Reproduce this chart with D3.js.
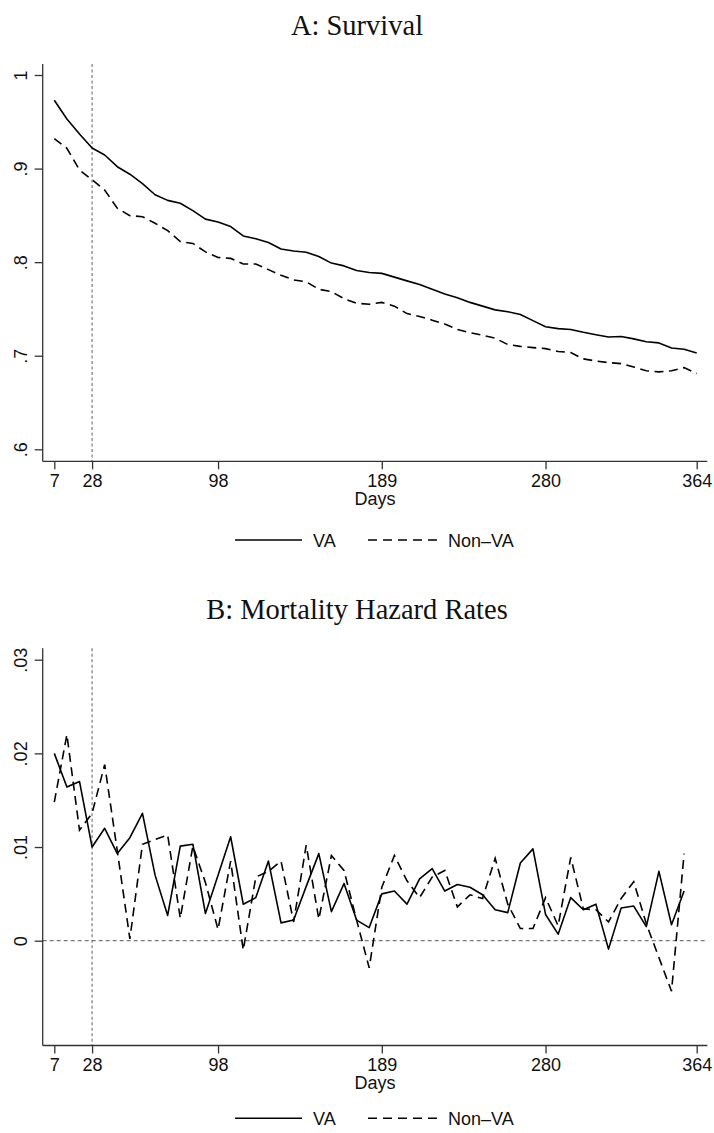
<!DOCTYPE html>
<html>
<head>
<meta charset="utf-8">
<script src="https://cdn.jsdelivr.net/npm/d3@7/dist/d3.min.js"></script>
<style>
  html, body { margin: 0; padding: 0; background: #fff; }
  svg { display: block; }
  text { font-family: "Liberation Sans", Arial, Helvetica, sans-serif; fill: #111; }
  .title { font-family: "Liberation Serif", "Times New Roman", serif; }
</style>
</head>
<body>
<svg id="chart" width="714" height="1133"></svg>
<script>
// ---------------- DATA ----------------
const survivalDays = [7,14,21,28,35,42,49,56,63,70,77,84,91,98,105,112,119,126,133,140,147,154,161,168,175,182,189,196,203,210,217,224,231,238,245,252,259,266,273,280,287,294,301,308,315,322,329,336,343,350,357,364];
const vaSurvival = [0.973,0.953,0.937,0.922,0.9145,0.902,0.894,0.884,0.872,0.866,0.863,0.855,0.846,0.843,0.838,0.828,0.825,0.821,0.814,0.812,0.8106,0.806,0.799,0.796,0.791,0.789,0.788,0.784,0.780,0.776,0.771,0.766,0.762,0.757,0.753,0.749,0.747,0.744,0.7375,0.731,0.729,0.728,0.725,0.7225,0.720,0.7205,0.718,0.715,0.7137,0.7083,0.707,0.703];
const nonVaSurvival = [0.932,0.9217,0.8985,0.888,0.877,0.8576,0.8497,0.8486,0.8415,0.8337,0.822,0.820,0.811,0.805,0.804,0.798,0.798,0.792,0.786,0.781,0.779,0.771,0.7685,0.761,0.756,0.755,0.757,0.753,0.745,0.742,0.738,0.734,0.728,0.7247,0.722,0.7187,0.712,0.710,0.7087,0.7076,0.7045,0.7034,0.6966,0.6944,0.6926,0.6916,0.688,0.684,0.6827,0.684,0.6873,0.681];

const hazardDays = [7,14,21,28,35,42,49,56,63,70,77,84,91,98,105,112,119,126,133,140,147,154,161,168,175,182,189,196,203,210,217,224,231,238,245,252,259,266,273,280,287,294,301,308,315,322,329,336,343,350,357];
const vaHazard = [0.0200,0.0164,0.0170,0.0100,0.0120,0.0093,0.0110,0.0136,0.0070,0.0027,0.0101,0.0103,0.0029,0.0070,0.0111,0.0039,0.0046,0.0085,0.0019,0.0022,0.0058,0.0093,0.0031,0.0061,0.0022,0.0014,0.0050,0.0053,0.0039,0.0066,0.0077,0.0053,0.0060,0.0057,0.0049,0.0033,0.0030,0.0083,0.0098,0.0028,0.0007,0.0046,0.0033,0.0039,-0.0009,0.0035,0.0037,0.0015,0.0074,0.0017,0.0053];
const nonVaHazard = [0.0148,0.0220,0.0118,0.0136,0.0188,0.0096,0.0002,0.0103,0.0108,0.0113,0.0024,0.0101,0.0062,0.0012,0.0085,-0.0010,0.0068,0.0074,0.0085,0.0020,0.0102,0.0023,0.0091,0.0075,0.0022,-0.0029,0.0057,0.0091,0.0064,0.0046,0.0068,0.0075,0.0036,0.0049,0.0045,0.0088,0.0039,0.0013,0.0013,0.0046,0.0016,0.0089,0.0034,0.0033,0.0020,0.0045,0.0063,0.0018,-0.0018,-0.0054,0.0093];

const xTicks = [7, 28, 98, 189, 280, 364];
const survivalTicks = [0.6, 0.7, 0.8, 0.9, 1];
const survivalTickLabels = [".6", ".7", ".8", ".9", "1"];
const hazardTicks = [0, 0.01, 0.02, 0.03];
const hazardTickLabels = ["0", ".01", ".02", ".03"];
const seriesNames = ["VA", "Non\u2013VA"];
const titles = ["A: Survival", "B: Mortality Hazard Rates"];
const xTitle = "Days";
const cutoffDay = 28;

// ---------------- LAYOUT ----------------
const svg = d3.select("#chart");
const W = 714;
const plotLeft = 42.7, plotRight = 707.3;
const x = d3.scaleLinear().domain([7, 364]).range([54.3, 696.7]);
const DASH = "9,5.5";

function panel(offY, cfg) {
  const g = svg.append("g").attr("transform", `translate(0,${offY})`);
  const top = 64, bottom = 461.3;
  const y = d3.scaleLinear().domain(cfg.yDomain).range(cfg.yRange);

  // title
  g.append("text").attr("class", "title")
    .attr("x", W / 2).attr("y", 34.5)
    .attr("text-anchor", "middle")
    .style("font-size", "28.5px")
    .text(cfg.title);

  // reference lines
  if (cfg.zeroLine) {
    g.append("line")
      .attr("x1", plotLeft).attr("x2", plotRight)
      .attr("y1", y(0)).attr("y2", y(0))
      .attr("stroke", "#7a7a7a").attr("stroke-width", 1.2)
      .attr("stroke-dasharray", "4,3");
  }
  g.append("line")
    .attr("x1", x(cutoffDay)).attr("x2", x(cutoffDay))
    .attr("y1", top).attr("y2", bottom)
    .attr("stroke", "#7a7a7a").attr("stroke-width", 1.2)
    .attr("stroke-dasharray", "3,2.5");

  // series
  const line = d3.line().x(d => x(d[0])).y(d => y(d[1]));
  g.append("path")
    .datum(cfg.days.map((d, i) => [d, cfg.a[i]]))
    .attr("d", line).attr("fill", "none")
    .attr("stroke", "#000").attr("stroke-width", 1.6)
    .attr("stroke-linejoin", "round");
  g.append("path")
    .datum(cfg.days.map((d, i) => [d, cfg.b[i]]))
    .attr("d", line).attr("fill", "none")
    .attr("stroke", "#000").attr("stroke-width", 1.6)
    .attr("stroke-dasharray", DASH);

  // axes frame lines
  g.append("line").attr("x1", plotLeft).attr("x2", plotLeft)
    .attr("y1", top).attr("y2", bottom)
    .attr("stroke", "#333").attr("stroke-width", 1.3);
  g.append("line").attr("x1", plotLeft).attr("x2", plotRight)
    .attr("y1", bottom).attr("y2", bottom)
    .attr("stroke", "#333").attr("stroke-width", 1.3);

  // x axis
  const xa = g.append("g").attr("transform", `translate(0,${bottom})`)
    .call(d3.axisBottom(x).tickValues(xTicks).tickSize(8).tickPadding(4.5).tickFormat(d3.format("d")));
  xa.select(".domain").remove();
  xa.selectAll(".tick line").attr("stroke", "#333").attr("stroke-width", 1.3);
  xa.selectAll(".tick text").style("font-size", "18px")
    .style("font-family", "Liberation Sans, Arial, sans-serif").attr("fill", "#111");

  // y axis
  const ya = g.append("g").attr("transform", `translate(${plotLeft},0)`)
    .call(d3.axisLeft(y).tickValues(cfg.yTicks).tickSize(8)
      .tickFormat((d, i) => cfg.yLabels[i]));
  ya.select(".domain").remove();
  ya.selectAll(".tick line").attr("stroke", "#333").attr("stroke-width", 1.3);
  ya.selectAll(".tick text")
    .attr("x", null).attr("dy", null)
    .attr("transform", "translate(-15.7,0) rotate(-90)")
    .attr("text-anchor", "middle")
    .style("font-size", "18px")
    .style("font-family", "Liberation Sans, Arial, sans-serif").attr("fill", "#111");

  // x title
  g.append("text").attr("x", (plotLeft + plotRight) / 2).attr("y", cfg.daysY)
    .attr("text-anchor", "middle").style("font-size", "18px").text(xTitle);

  // legend
  const ly = cfg.legendY;
  g.append("line").attr("x1", 235).attr("x2", 302).attr("y1", ly).attr("y2", ly)
    .attr("stroke", "#000").attr("stroke-width", 1.6);
  g.append("text").attr("x", 313).attr("y", ly + 6.5).style("font-size", "18px").text(seriesNames[0]);
  g.append("line").attr("x1", 368).attr("x2", 438).attr("y1", ly).attr("y2", ly)
    .attr("stroke", "#000").attr("stroke-width", 1.6).attr("stroke-dasharray", "9,6");
  g.append("text").attr("x", 448).attr("y", ly + 6.5).style("font-size", "18px").text(seriesNames[1]);
}

panel(0, {
  title: titles[0],
  yDomain: [0.6, 1], yRange: [449.3, 75],
  yTicks: survivalTicks, yLabels: survivalTickLabels,
  days: survivalDays, a: vaSurvival, b: nonVaSurvival,
  zeroLine: false, daysY: 505, legendY: 540
});
panel(584.2, {
  title: titles[1],
  yDomain: [0, 0.03], yRange: [356.5, 75.5],
  yTicks: hazardTicks, yLabels: hazardTickLabels,
  days: hazardDays, a: vaHazard, b: nonVaHazard,
  zeroLine: true, daysY: 505, legendY: 534
});
</script>
</body>
</html>
